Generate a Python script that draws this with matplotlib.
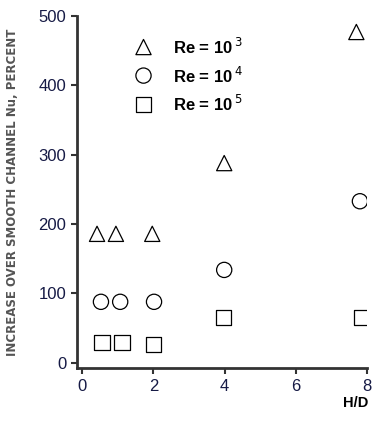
import matplotlib
matplotlib.use("Agg")
import matplotlib.pyplot as plt

# H/D positions and percent increase
hd_re3 = [0.42, 0.95, 1.97, 3.99, 7.7]
nu_re3 = [186, 186, 186, 288, 477]
hd_re4 = [0.53, 1.07, 2.02, 3.99, 7.8]
nu_re4 = [88, 88, 88, 134, 233]
hd_re5 = [0.56, 1.12, 2.0, 3.96, 7.84]
nu_re5 = [29, 29, 27, 65, 65]

labels = ["3", "4", "5"]

plt.rcParams['font.family'] = ['Liberation Sans', 'DejaVu Sans']

fig = plt.figure(figsize=(3.78, 4.22), dpi=100)
ax = fig.add_axes([0.203, 0.127, 0.768, 0.835])

mk = dict(facecolors='none', edgecolors='black', linewidths=0.9, s=120)
ax.scatter(hd_re3, nu_re3, marker='^', **mk)
ax.scatter(hd_re4, nu_re4, marker='o', **mk)
ax.scatter(hd_re5, nu_re5, marker='s', **mk)

ax.set_xlim(-0.15, 8.0)
ax.set_ylim(-8, 500)
ax.set_xticks([0, 2, 4, 6, 8])
ax.set_yticks([0, 100, 200, 300, 400, 500])
for s in ['top', 'right']:
    ax.spines[s].set_visible(False)
for s in ['left', 'bottom']:
    ax.spines[s].set_linewidth(2)
    ax.spines[s].set_color('#333333')
ax.tick_params(colors='#333333', labelcolor='#161a45', labelsize=12,
               width=1.5, length=4)

# legend drawn as text in axes coordinates
mrk = ['^', 'o', 's']
for i, (m, e) in enumerate(zip(mrk, labels)):
    yy = 0.912 - i * 0.081
    ax.scatter([0.23], [yy], marker=m, transform=ax.transAxes, **mk)
    ax.text(0.33, yy, r"Re = 10$\,^{%s}$" % e, transform=ax.transAxes,
            fontsize=12, fontweight='bold', va='center')

ax.set_ylabel("INCREASE OVER SMOOTH CHANNEL Nu, PERCENT", fontsize=8.5,
              fontweight='bold', color='#555555', family='DejaVu Sans')
ax.yaxis.set_label_coords(-0.2, 0.5)
fig.text(0.94, 0.035, "H/D", fontsize=10.5, fontweight='bold', ha='center')

fig.savefig("out.png", dpi=100)
